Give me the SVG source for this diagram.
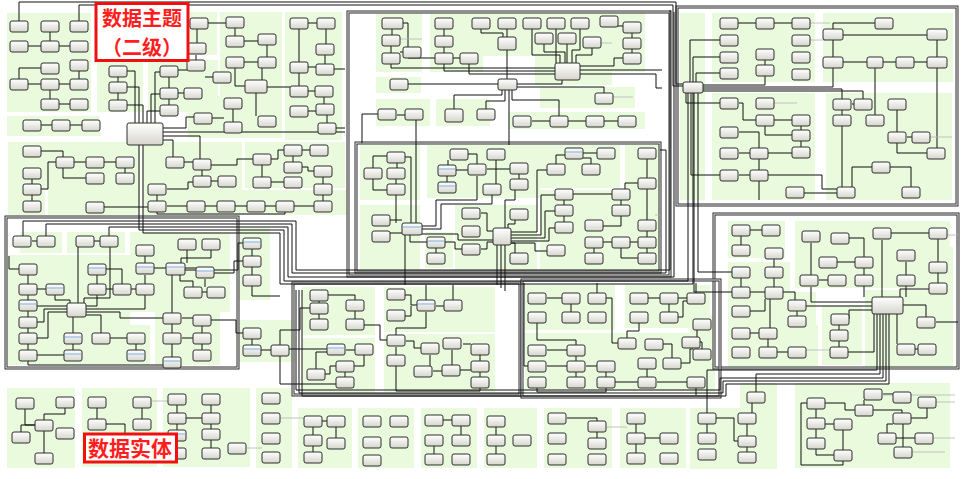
<svg xmlns="http://www.w3.org/2000/svg" width="969" height="479" viewBox="0 0 969 479">
<defs>
<linearGradient id="g" x1="0" y1="0" x2="0" y2="1"><stop offset="0" stop-color="#ffffff"/><stop offset="1" stop-color="#d6d6cd"/></linearGradient>
<rect id="N" width="18" height="11" rx="2" fill="url(#g)" stroke="#2e2e2e" stroke-width="1"/>
</defs>
<style>
.p{fill:#eafadc}
.e{fill:none;stroke:#111;stroke-width:1}
.gl{fill:none;stroke:#b5b5b5;stroke-width:0.8}
.f{fill:none;stroke:#2a2a2a;stroke-width:3}
.fi{fill:none;stroke:#f2f2f2;stroke-width:1}
.n{fill:url(#g);stroke:#2e2e2e;stroke-width:1}
.b{stroke:#7fb0ec;stroke-width:1}
.lb{fill:#fff;stroke:#f01010;stroke-width:3}
.lt{font-family:"Noto Sans CJK SC","Noto Sans",sans-serif;font-weight:bold;font-size:21px;fill:#ff1e1e;text-anchor:middle}
.lt2{font-family:"Noto Sans CJK SC","Noto Sans",sans-serif;font-weight:bold;font-size:20px;fill:#ff1e1e;text-anchor:middle}
</style>
<rect width="969" height="479" fill="#fff"/>
<g id="panels">
<rect class="p" x="7" y="13" width="84" height="99"/><rect class="p" x="7" y="116" width="93" height="20"/><rect class="p" x="97" y="60" width="46" height="52"/><rect class="p" x="148" y="60" width="70" height="52"/><rect class="p" x="190" y="12" width="27" height="43"/><rect class="p" x="220" y="12" width="62" height="92"/><rect class="p" x="285" y="12" width="57" height="128"/><rect class="p" x="188" y="96" width="94" height="42"/>
<rect class="p" x="8" y="142" width="132" height="48"/><rect class="p" x="8" y="190" width="37" height="25"/><rect class="p" x="48" y="190" width="92" height="25"/><rect class="p" x="142" y="142" width="100" height="48"/><rect class="p" x="245" y="142" width="100" height="46"/><rect class="p" x="142" y="190" width="205" height="25"/>
<rect class="p" x="20" y="232" width="42" height="21"/><rect class="p" x="67" y="232" width="58" height="21"/><rect class="p" x="7" y="255" width="123" height="110"/><rect class="p" x="130" y="232" width="100" height="80"/><rect class="p" x="155" y="312" width="65" height="53"/><rect class="p" x="120" y="325" width="30" height="40"/><rect class="p" x="238" y="228" width="32" height="72"/><rect class="p" x="238" y="320" width="57" height="42"/>
<rect class="p" x="302" y="287" width="73" height="48"/><rect class="p" x="302" y="338" width="73" height="55"/><rect class="p" x="384" y="287" width="111" height="45"/><rect class="p" x="384" y="334" width="111" height="58"/><rect class="p" x="525" y="285" width="90" height="45"/><rect class="p" x="625" y="285" width="85" height="43"/><rect class="p" x="525" y="333" width="90" height="58"/><rect class="p" x="615" y="333" width="77" height="58"/><rect class="p" x="690" y="315" width="25" height="77"/>
<rect class="p" x="376" y="13" width="46" height="59"/><rect class="p" x="430" y="13" width="53" height="59"/><rect class="p" x="465" y="13" width="147" height="43"/><rect class="p" x="535" y="56" width="77" height="29"/><rect class="p" x="598" y="13" width="47" height="59"/><rect class="p" x="376" y="77" width="45" height="16"/><rect class="p" x="376" y="99" width="54" height="27"/><rect class="p" x="436" y="99" width="54" height="27"/><rect class="p" x="508" y="112" width="137" height="17"/><rect class="p" x="540" y="87" width="95" height="21"/>
<rect class="p" x="360" y="145" width="60" height="55"/><rect class="p" x="427" y="145" width="113" height="53"/><rect class="p" x="540" y="145" width="80" height="43"/><rect class="p" x="625" y="145" width="35" height="125"/><rect class="p" x="540" y="190" width="85" height="80"/><rect class="p" x="360" y="205" width="60" height="65"/><rect class="p" x="425" y="232" width="28" height="36"/><rect class="p" x="455" y="205" width="82" height="65"/>
<rect class="p" x="680" y="13" width="25" height="187"/><rect class="p" x="712" y="13" width="103" height="69"/><rect class="p" x="823" y="13" width="130" height="69"/><rect class="p" x="712" y="93" width="103" height="107"/><rect class="p" x="826" y="93" width="126" height="107"/>
<rect class="p" x="728" y="221" width="57" height="37"/><rect class="p" x="728" y="262" width="62" height="63"/><rect class="p" x="728" y="325" width="90" height="42"/><rect class="p" x="786" y="292" width="30" height="38"/><rect class="p" x="795" y="221" width="155" height="67"/><rect class="p" x="865" y="290" width="88" height="77"/><rect class="p" x="927" y="247" width="26" height="45"/><rect class="p" x="822" y="305" width="40" height="60"/>
<rect class="p" x="7" y="388" width="68" height="80"/><rect class="p" x="82" y="388" width="75" height="79"/><rect class="p" x="163" y="388" width="87" height="79"/><rect class="p" x="256" y="388" width="36" height="80"/><rect class="p" x="298" y="408" width="54" height="60"/><rect class="p" x="358" y="408" width="56" height="60"/><rect class="p" x="421" y="408" width="56" height="60"/><rect class="p" x="484" y="408" width="53" height="60"/><rect class="p" x="544" y="408" width="68" height="60"/><rect class="p" x="620" y="408" width="66" height="60"/><rect class="p" x="690" y="408" width="87" height="61"/><rect class="p" x="740" y="383" width="37" height="26"/><rect class="p" x="795" y="383" width="155" height="85"/>
</g>
<g id="frames">
<rect class="f" x="6" y="217" width="232" height="151"/><rect class="fi" x="6" y="217" width="232" height="151"/>
<rect class="f" x="348" y="12" width="322" height="264"/><rect class="fi" x="348" y="12" width="322" height="264"/>
<rect class="f" x="356" y="143" width="304" height="129"/><rect class="fi" x="356" y="143" width="304" height="129"/>
<rect class="f" x="677" y="7" width="280" height="198"/><rect class="fi" x="677" y="7" width="280" height="198"/>
<rect class="f" x="714" y="214" width="244" height="154"/><rect class="fi" x="714" y="214" width="244" height="154"/>
<rect class="f" x="293" y="283" width="227" height="112"/><rect class="fi" x="293" y="283" width="227" height="112"/>
<rect class="f" x="522" y="280" width="198" height="117"/><rect class="fi" x="522" y="280" width="198" height="117"/>
</g>
<g id="connectors">
<path class="e" d="M28,46H41"/><path class="e" d="M59,46H70"/><path class="e" d="M50,32V41"/><path class="e" d="M41,68H19V79"/><path class="e" d="M79,71V79"/><path class="e" d="M28,84H41"/><path class="e" d="M59,84H70"/><path class="e" d="M50,90V99"/><path class="e" d="M59,104H70"/>
<path class="e" d="M19,21V2H676V84H683"/><path class="e" d="M79,21V5H673V86H683"/>
<path class="e" d="M41,125H52"/><path class="e" d="M70,125H82"/>
<path class="e" d="M118,77V82"/><path class="e" d="M118,93V100"/><path class="e" d="M169,77V88"/><path class="e" d="M178,93H184"/><path class="e" d="M169,99V105"/><path class="e" d="M178,70H187"/><path class="e" d="M196,55V60"/><path class="e" d="M205,77H213"/><path class="e" d="M197,29V43"/><path class="e" d="M208,23H226"/>
<path class="e" d="M135,123V71H127"/><path class="e" d="M139,123V87H127"/><path class="e" d="M143,123V105H127"/><path class="e" d="M147,123V111H160"/><path class="e" d="M151,123V94H160"/><path class="e" d="M155,123V72H160"/><path class="e" d="M163,128H186V117H194"/><path class="e" d="M163,132H345"/><path class="e" d="M163,136H200V159"/><path class="e" d="M163,140H173V157"/>
<path class="e" d="M235,28V36"/><path class="e" d="M244,41H258"/><path class="e" d="M267,45V57"/><path class="e" d="M244,62H258"/><path class="e" d="M235,68V86H245"/><path class="e" d="M262,80V68"/><path class="e" d="M308,23H317"/><path class="e" d="M326,29V44"/><path class="e" d="M325,55V64"/><path class="e" d="M308,67H316"/><path class="e" d="M308,91H315"/><path class="e" d="M324,97V104"/><path class="e" d="M327,115V123"/><path class="e" d="M308,111H316"/><path class="e" d="M267,87H290"/><path class="e" d="M256,93V116"/><path class="e" d="M233,109V122"/><path class="e" d="M212,118H224"/><path class="e" d="M299,29V62"/><path class="e" d="M299,73V86"/><path class="e" d="M334,69H345"/><path class="e" d="M336,128H345"/>
<path class="e" d="M40,151H63V157"/><path class="e" d="M74,162H86"/><path class="e" d="M104,162H116"/><path class="e" d="M63,168V178H86"/><path class="e" d="M125,168V173"/><path class="e" d="M32,179V184"/><path class="e" d="M32,195V201"/><path class="e" d="M41,189H48V162H56"/><path class="e" d="M104,207H148"/><path class="e" d="M184,162H193"/><path class="e" d="M202,170V176"/><path class="e" d="M211,181H218"/><path class="e" d="M211,165H237V159H253"/><path class="e" d="M262,165V177"/><path class="e" d="M271,182H284"/><path class="e" d="M271,159H278V150H284"/><path class="e" d="M302,150H310"/><path class="e" d="M293,156V162"/><path class="e" d="M302,167H308V171H314"/><path class="e" d="M323,177V184"/><path class="e" d="M323,195V201"/><path class="e" d="M157,195V201"/><path class="e" d="M167,189H188V182H193"/><path class="e" d="M167,206H187"/><path class="e" d="M205,206H217"/><path class="e" d="M235,206H247"/><path class="e" d="M265,206H276"/><path class="e" d="M294,206H314"/><path class="e" d="M157,212V214H285V212"/>
<path class="e" d="M23,236V221H296V270H670V10"/><path class="e" d="M46,236V224H292V273H666V150H660"/><path class="e" d="M109,236V227H288V277H674V12"/><path class="e" d="M139,145V230H284V281H688V93"/><path class="e" d="M143,145V233H280V284H693V93"/>
<path class="e" d="M32,241H37"/><path class="e" d="M94,241H100"/><path class="e" d="M9,256V269H19"/><path class="e" d="M28,275V284"/><path class="e" d="M28,295V300"/><path class="e" d="M28,311V317"/><path class="e" d="M28,328V333"/><path class="e" d="M28,344V350"/><path class="e" d="M67,306H37"/><path class="e" d="M67,309H44V322H37"/><path class="e" d="M67,312H48V338H37"/><path class="e" d="M64,355H37"/><path class="e" d="M37,289H46"/><path class="e" d="M55,295V300H70V303"/><path class="e" d="M97,275V284"/><path class="e" d="M106,269H122V284"/><path class="e" d="M106,289H113"/><path class="e" d="M131,289H136"/><path class="e" d="M97,295V306H86"/><path class="e" d="M78,303V247"/><path class="e" d="M84,303V298H110V247"/><path class="e" d="M86,309H145V295"/><path class="e" d="M86,312H120V318H163"/><path class="e" d="M86,315H101V333"/><path class="e" d="M73,317V333"/><path class="e" d="M73,344V350"/><path class="e" d="M110,338H127"/><path class="e" d="M136,344V350"/><path class="e" d="M145,256V263"/><path class="e" d="M145,275V284"/><path class="e" d="M154,268H166"/><path class="e" d="M185,268H196"/><path class="e" d="M187,250V263"/><path class="e" d="M211,250V258H181V263"/><path class="e" d="M205,279V287"/><path class="e" d="M180,275V281H193V287"/><path class="e" d="M202,292H207"/><path class="e" d="M172,275V313"/><path class="e" d="M182,318H193"/><path class="e" d="M172,324V333"/><path class="e" d="M182,338H193"/><path class="e" d="M202,326V333"/><path class="e" d="M202,344V350"/><path class="e" d="M172,344V357"/><path class="e" d="M185,270H238V243H243"/><path class="e" d="M214,273H234V261H243"/><path class="e" d="M28,361V365H172V368"/><path class="e" d="M211,320H236V333H243"/>
<path class="e" d="M252,249V256"/><path class="e" d="M252,267V275"/><path class="e" d="M252,286V296H280"/><path class="e" d="M252,339V345"/><path class="e" d="M261,350H271"/><path class="e" d="M280,345V330H300V308H310"/><path class="e" d="M289,349H327"/><path class="e" d="M280,356V384H336"/>
<path class="e" d="M319,301V303"/><path class="e" d="M319,314V319"/><path class="e" d="M328,295H355V300"/><path class="e" d="M355,311V319"/><path class="e" d="M364,325H380V340H387"/><path class="e" d="M405,295H411V305H417"/><path class="e" d="M405,316H411V306"/><path class="e" d="M436,306H444"/><path class="e" d="M426,300V285"/><path class="e" d="M426,312V328H396V335"/><path class="e" d="M396,347V355"/><path class="e" d="M406,341H414V348H421"/><path class="e" d="M346,350H355"/><path class="e" d="M364,355V366H354"/><path class="e" d="M345,372V377"/><path class="e" d="M325,374H330V366H336"/><path class="e" d="M316,369V352H327"/><path class="e" d="M463,344H471"/><path class="e" d="M480,355V361"/><path class="e" d="M480,372V377"/><path class="e" d="M460,370H471"/><path class="e" d="M433,371H442"/><path class="e" d="M396,366V391H480V388"/><path class="e" d="M453,300V285"/><path class="e" d="M430,355V366"/><path class="e" d="M452,350V365"/>
<path class="e" d="M547,298H562"/><path class="e" d="M571,304V312"/><path class="e" d="M606,298H612V343H618"/><path class="e" d="M597,293V283"/><path class="e" d="M537,323V340H576V345"/><path class="e" d="M547,350H567"/><path class="e" d="M576,356V361"/><path class="e" d="M547,366H567"/><path class="e" d="M586,366H597"/><path class="e" d="M576,372V377"/><path class="e" d="M606,372V377"/><path class="e" d="M528,366H524V283"/><path class="e" d="M648,298H660"/><path class="e" d="M669,304V312"/><path class="e" d="M678,298H687"/><path class="e" d="M696,293V283"/><path class="e" d="M678,317H683V301H687"/><path class="e" d="M639,323V331H627V338"/><path class="e" d="M663,344H672V358"/><path class="e" d="M647,369V377"/><path class="e" d="M681,363H690V349H693"/><path class="e" d="M657,382H687"/><path class="e" d="M615,382H638"/><path class="e" d="M697,330V337"/><path class="e" d="M700,342H702V349"/><path class="e" d="M696,388V395"/><path class="e" d="M537,388V392H606V388"/>
<path class="e" d="M392,29V35"/><path class="e" d="M391,46V53"/><path class="e" d="M400,52H403"/><path class="e" d="M403,23H408V58H435"/><path class="e" d="M444,29V36"/><path class="e" d="M444,47V53"/><path class="e" d="M453,58H460"/><path class="e" d="M481,29V33H503V37"/><path class="e" d="M507,29V37"/><path class="e" d="M507,50V79"/><path class="e" d="M532,29V55H560V63"/><path class="e" d="M556,29V63"/><path class="e" d="M580,29V50H572V63"/><path class="e" d="M544,44V52H565V63"/><path class="e" d="M567,44V63"/><path class="e" d="M592,48V55H576V63"/><path class="e" d="M617,26H623"/><path class="e" d="M632,33V38"/><path class="e" d="M632,49V53"/><path class="e" d="M580,66H614V58H623"/><path class="e" d="M580,70H662"/><path class="e" d="M580,74H656V88H662"/><path class="e" d="M517,84H562V80"/><path class="e" d="M408,84H498"/><path class="e" d="M391,64V68H555"/><path class="e" d="M444,64V71H555"/><path class="e" d="M469,64V74H555"/><path class="e" d="M397,115H405"/><path class="e" d="M378,114H362V143"/><path class="e" d="M502,90V95H454V109"/><path class="e" d="M505,90V101H486V109"/><path class="e" d="M512,90V100H559V116"/><path class="e" d="M532,121H550"/><path class="e" d="M568,121H586"/><path class="e" d="M604,121H618"/><path class="e" d="M517,87H604V93"/><path class="e" d="M509,90V145"/><path class="e" d="M416,120V223"/>
<path class="e" d="M387,156H373V168"/><path class="e" d="M373,179V190H387"/><path class="e" d="M396,195V223"/><path class="e" d="M405,157H411V223"/><path class="e" d="M390,220H402"/><path class="e" d="M390,233H402"/><path class="e" d="M422,226H436V200H477V176"/><path class="e" d="M422,229H441V204H492V195"/><path class="e" d="M422,234H458V240H493"/><path class="e" d="M410,235V242H427"/><path class="e" d="M405,235V285"/><path class="e" d="M436,248V253"/><path class="e" d="M445,242H455V249H462"/><path class="e" d="M456,170H468"/><path class="e" d="M468,154H477V164"/><path class="e" d="M487,169H510"/><path class="e" d="M519,174V179"/><path class="e" d="M515,190V200H505V228"/><path class="e" d="M481,213H487V231H493"/><path class="e" d="M481,249H487V242H493"/><path class="e" d="M511,232H537V170H547"/><path class="e" d="M511,235H541V195H555"/><path class="e" d="M511,238H545V211H555"/><path class="e" d="M511,241H549V228H555"/><path class="e" d="M515,220V224H508V228"/><path class="e" d="M515,253V243H511"/><path class="e" d="M497,245V285"/><path class="e" d="M501,245V288"/><path class="e" d="M505,245V291"/><path class="e" d="M564,200V205"/><path class="e" d="M564,216V222"/><path class="e" d="M573,194H612"/><path class="e" d="M621,200V205"/><path class="e" d="M621,216V226H603"/><path class="e" d="M603,242H612"/><path class="e" d="M594,248V253"/><path class="e" d="M630,242H638"/><path class="e" d="M647,231V237"/><path class="e" d="M647,248V253"/><path class="e" d="M621,248V258H638"/><path class="e" d="M647,220V189"/><path class="e" d="M647,159V178"/><path class="e" d="M638,183H625V189"/><path class="e" d="M583,153H597"/><path class="e" d="M565,155H556V164"/><path class="e" d="M583,158H591V164"/><path class="e" d="M511,243H535V251H547"/><path class="e" d="M397,163V168"/><path class="e" d="M396,179V184"/><path class="e" d="M447,176V182"/><path class="e" d="M448,160V165"/><path class="e" d="M496,159V184"/>
<path class="e" d="M738,23H756"/><path class="e" d="M774,23H792"/><path class="e" d="M765,60V65"/><path class="e" d="M690,82V40H720"/><path class="e" d="M693,82V57H720"/><path class="e" d="M696,82V73H720"/><path class="e" d="M703,85H765V76"/><path class="e" d="M703,87H833V68"/><path class="e" d="M703,89H842V99"/><path class="e" d="M703,91H863V99"/><path class="e" d="M686,93V103H720"/><path class="e" d="M691,93V175H720"/><path class="e" d="M694,93V292H732"/><path class="e" d="M698,93V272H732"/><path class="e" d="M739,103H743V120H756"/><path class="e" d="M765,126V135H792"/><path class="e" d="M774,120H792"/><path class="e" d="M739,132H759V148"/><path class="e" d="M739,153H750"/><path class="e" d="M768,153H792"/><path class="e" d="M759,159V170"/><path class="e" d="M739,175H750"/><path class="e" d="M768,175H822V189H837"/><path class="e" d="M804,193H837"/><path class="e" d="M759,181V200"/><path class="e" d="M801,126V130"/><path class="e" d="M801,141V147"/><path class="e" d="M833,29V23H875"/><path class="e" d="M843,35H927"/><path class="e" d="M833,40V57"/><path class="e" d="M843,62H867"/><path class="e" d="M883,62H896"/><path class="e" d="M914,62H927"/><path class="e" d="M937,40V57"/><path class="e" d="M937,68V148"/><path class="e" d="M852,104H854"/><path class="e" d="M842,110V115"/><path class="e" d="M842,126V187"/><path class="e" d="M875,68V115"/><path class="e" d="M897,110V132"/><path class="e" d="M907,137H912"/><path class="e" d="M897,143V153H927"/><path class="e" d="M872,167H852V187"/><path class="e" d="M890,167H911V187"/>
<path class="e" d="M750,230H762"/><path class="e" d="M741,236V245"/><path class="e" d="M774,259V267"/><path class="e" d="M774,278V287"/><path class="e" d="M750,292H765"/><path class="e" d="M741,278V287"/><path class="e" d="M750,311H765V299"/><path class="e" d="M783,292H795V300"/><path class="e" d="M797,311V316"/><path class="e" d="M770,299V328"/><path class="e" d="M750,333H759"/><path class="e" d="M768,339V347"/><path class="e" d="M777,352H788"/><path class="e" d="M811,243V275"/><path class="e" d="M819,280H828"/><path class="e" d="M837,262H855"/><path class="e" d="M864,268V275"/><path class="e" d="M848,238H864V257"/><path class="e" d="M882,240V297"/><path class="e" d="M891,233H929"/><path class="e" d="M938,239V262"/><path class="e" d="M938,273V283"/><path class="e" d="M929,289H900V297"/><path class="e" d="M906,262V275"/><path class="e" d="M906,286V297"/><path class="e" d="M864,286V297"/><path class="e" d="M872,302H811V287"/><path class="e" d="M806,306H872"/><path class="e" d="M873,310H849V319"/><path class="e" d="M903,305H926V317"/><path class="e" d="M897,314V344"/><path class="e" d="M915,349H918"/><path class="e" d="M936,322H958"/><path class="e" d="M839,325V330"/><path class="e" d="M839,341V347"/><path class="e" d="M848,352H874V314"/>
<path class="e" d="M877,314V370H707V413"/><path class="e" d="M880,314V374H756V392"/><path class="e" d="M883,314V378H720V390H296V290"/><path class="e" d="M886,314V381H723V393H299V290"/><path class="e" d="M889,314V384H726V396H302V290"/>
<path class="e" d="M25,409V425H35"/><path class="e" d="M65,408V414H44V420"/><path class="e" d="M35,425H21V432"/><path class="e" d="M44,431V453"/><path class="e" d="M97,408V419"/><path class="e" d="M142,408V419"/><path class="e" d="M106,424H125V440"/><path class="e" d="M177,405V413"/><path class="e" d="M211,405V413"/><path class="e" d="M186,418H202"/><path class="e" d="M211,424V429"/><path class="e" d="M177,424V430"/><path class="e" d="M211,440V448"/><path class="e" d="M177,441V448"/><path class="e" d="M322,421H327"/><path class="e" d="M313,427V435"/><path class="e" d="M313,446V452"/><path class="e" d="M336,427V438"/><path class="e" d="M443,420H452"/><path class="e" d="M461,426V435"/><path class="e" d="M434,446V454"/><path class="e" d="M496,427V435"/><path class="e" d="M496,446V454"/><path class="e" d="M567,418H597V421"/><path class="e" d="M597,432V438"/><path class="e" d="M636,424V433"/><path class="e" d="M645,438H660"/><path class="e" d="M636,444V453"/><path class="e" d="M716,418H734V441H738"/><path class="e" d="M707,424V433"/><path class="e" d="M747,424V436"/><path class="e" d="M747,447V452"/><path class="e" d="M752,403V413"/><path class="e" d="M816,408V418"/><path class="e" d="M816,429V438"/><path class="e" d="M825,403H845V410H855"/><path class="e" d="M864,400V405"/><path class="e" d="M873,410H902V413"/><path class="e" d="M883,394H893"/><path class="e" d="M927,408V418H911"/><path class="e" d="M825,424H834"/><path class="e" d="M843,430V450"/><path class="e" d="M816,449V455H834"/><path class="e" d="M887,433V424H893"/><path class="e" d="M807,403H801V465H843V461"/><path class="e" d="M896,438H915"/><path class="e" d="M903,424V447"/>
<path class="gl" d="M400,39H422"/><path class="gl" d="M601,43H612"/><path class="gl" d="M613,97H633"/><path class="gl" d="M774,103H797"/><path class="gl" d="M810,40H826"/><path class="gl" d="M810,23H830"/><path class="gl" d="M930,137H952"/><path class="gl" d="M944,235H958"/><path class="gl" d="M806,350H830"/><path class="gl" d="M152,401H168"/><path class="gl" d="M280,418H304"/><path class="gl" d="M247,448H262"/><path class="gl" d="M607,427H627"/><path class="gl" d="M883,395H955"/><path class="gl" d="M936,402H955"/><path class="gl" d="M933,438H955"/><path class="gl" d="M912,452H945"/><path class="gl" d="M655,215H660"/>
</g>
<g id="nodes">
<g id="n1"><use href="#N" x="10" y="21"/></g><g id="n2"><use href="#N" x="41" y="21"/></g><g id="n3"><use href="#N" x="70" y="21"/></g><g id="n4"><use href="#N" x="10" y="41"/></g><g id="n5"><use href="#N" x="41" y="41"/></g><g id="n6"><use href="#N" x="70" y="41"/></g><g id="n7"><use href="#N" x="41" y="63"/></g><g id="n8"><use href="#N" x="70" y="60"/></g><g id="n9"><use href="#N" x="10" y="79"/></g><g id="n10"><use href="#N" x="41" y="79"/></g><g id="n11"><use href="#N" x="70" y="79"/></g><g id="n12"><use href="#N" x="41" y="99"/></g><g id="n13"><use href="#N" x="70" y="99"/></g>
<g id="n14"><use href="#N" x="23" y="120"/></g><g id="n15"><use href="#N" x="52" y="120"/></g><g id="n16"><use href="#N" x="82" y="120"/></g>
<g id="n17"><use href="#N" x="109" y="66"/></g><g id="n18"><use href="#N" x="109" y="82"/></g><g id="n19"><use href="#N" x="109" y="100"/></g><g id="n20"><use href="#N" x="160" y="66"/></g><g id="n21"><use href="#N" x="187" y="60"/></g><g id="n22"><use href="#N" x="160" y="88"/></g><g id="n23"><use href="#N" x="184" y="88"/></g><g id="n24"><use href="#N" x="160" y="105"/></g><g id="n25"><use href="#N" x="213" y="72"/></g><g id="n26"><use href="#N" x="190" y="18"/></g><g id="n27"><use href="#N" x="188" y="43"/></g>
<g id="h1"><rect class="n" x="127" y="123" width="36" height="22" rx="2"/></g>
<g id="n28"><use href="#N" x="226" y="17"/></g><g id="n29"><use href="#N" x="226" y="36"/></g><g id="n30"><use href="#N" x="258" y="34"/></g><g id="n31"><use href="#N" x="258" y="57"/></g><g id="n32"><use href="#N" x="226" y="57"/></g>
<g id="h2"><rect class="n" x="245" y="80" width="22" height="13" rx="2"/></g>
<g id="n33"><use href="#N" x="290" y="18"/></g><g id="n34"><use href="#N" x="317" y="18"/></g><g id="n35"><use href="#N" x="316" y="44"/></g><g id="n36"><use href="#N" x="290" y="62"/></g><g id="n37"><use href="#N" x="316" y="64"/></g><g id="n38"><use href="#N" x="290" y="86"/></g><g id="n39"><use href="#N" x="315" y="86"/></g><g id="n40"><use href="#N" x="316" y="104"/></g><g id="n41"><use href="#N" x="290" y="106"/></g><g id="n42"><use href="#N" x="318" y="123"/></g><g id="n43"><use href="#N" x="258" y="116"/></g><g id="n44"><use href="#N" x="224" y="98"/></g><g id="n45"><use href="#N" x="224" y="122"/></g><g id="n46"><use href="#N" x="194" y="113"/></g>
<g id="n47"><use href="#N" x="23" y="146"/></g><g id="n48"><use href="#N" x="56" y="157"/></g><g id="n49"><use href="#N" x="86" y="157"/></g><g id="n50"><use href="#N" x="116" y="157"/></g><g id="n51"><use href="#N" x="86" y="173"/></g><g id="n52"><use href="#N" x="116" y="173"/></g><g id="n53"><use href="#N" x="23" y="168"/></g><g id="n54"><use href="#N" x="23" y="184"/></g><g id="n55"><use href="#N" x="23" y="201"/></g><g id="n56"><use href="#N" x="86" y="202"/></g><g id="n57"><use href="#N" x="166" y="157"/></g><g id="n58"><use href="#N" x="193" y="159"/></g><g id="n59"><use href="#N" x="193" y="176"/></g><g id="n60"><use href="#N" x="218" y="176"/></g><g id="n61"><use href="#N" x="253" y="154"/></g><g id="n62"><use href="#N" x="284" y="145"/></g><g id="n63"><use href="#N" x="310" y="145"/></g><g id="n64"><use href="#N" x="284" y="162"/></g><g id="n65"><use href="#N" x="253" y="177"/></g><g id="n66"><use href="#N" x="284" y="177"/></g><g id="n67"><use href="#N" x="314" y="166"/></g><g id="n68"><use href="#N" x="314" y="184"/></g><g id="n69"><use href="#N" x="314" y="201"/></g><g id="n70"><use href="#N" x="148" y="184"/></g><g id="n71"><use href="#N" x="148" y="201"/></g><g id="n72"><use href="#N" x="187" y="201"/></g><g id="n73"><use href="#N" x="217" y="201"/></g><g id="n74"><use href="#N" x="247" y="201"/></g><g id="n75"><use href="#N" x="276" y="201"/></g>
<g id="n76"><use href="#N" x="13" y="236"/></g><g id="n77"><use href="#N" x="37" y="236"/></g><g id="n78"><use href="#N" x="76" y="236"/></g><g id="n79"><use href="#N" x="100" y="236"/></g><g id="n80"><use href="#N" x="19" y="264"/></g><g id="n81"><use href="#N" x="19" y="284"/></g><g id="n82"><use href="#N" x="19" y="300"/><path class="b" d="M20,304H36"/></g><g id="n83"><use href="#N" x="19" y="317"/></g><g id="n84"><use href="#N" x="19" y="333"/></g><g id="n85"><use href="#N" x="19" y="350"/></g><g id="n86"><use href="#N" x="46" y="284"/><path class="b" d="M47,288H63"/></g><g id="n87"><use href="#N" x="88" y="264"/><path class="b" d="M89,268H105"/></g><g id="n88"><use href="#N" x="88" y="284"/></g><g id="n89"><use href="#N" x="113" y="284"/></g><g id="n90"><use href="#N" x="136" y="284"/></g><g id="n91"><use href="#N" x="136" y="245"/></g><g id="n92"><use href="#N" x="136" y="263"/><path class="b" d="M137,267H153"/></g>
<g id="h3"><rect class="n" x="67" y="303" width="19" height="14" rx="2"/></g>
<g id="n93"><use href="#N" x="64" y="333"/><path class="b" d="M65,337H81"/></g><g id="n94"><use href="#N" x="64" y="350"/><path class="b" d="M65,354H81"/></g><g id="n95"><use href="#N" x="92" y="333"/></g><g id="n96"><use href="#N" x="127" y="333"/></g><g id="n97"><use href="#N" x="127" y="350"/><path class="b" d="M128,354H144"/></g>
<g id="h4"><rect class="n" x="166" y="263" width="19" height="12" rx="2"/><path class="b" d="M167,267H184"/></g>
<g id="n98"><use href="#N" x="178" y="239"/></g><g id="n99"><use href="#N" x="202" y="239"/></g><g id="n100"><use href="#N" x="196" y="267"/><path class="b" d="M197,271H213"/></g><g id="n101"><use href="#N" x="184" y="287"/></g><g id="n102"><use href="#N" x="207" y="287"/></g><g id="n103"><use href="#N" x="163" y="313"/></g><g id="n104"><use href="#N" x="193" y="315"/></g><g id="n105"><use href="#N" x="163" y="333"/></g><g id="n106"><use href="#N" x="193" y="333"/></g><g id="n107"><use href="#N" x="193" y="350"/></g><g id="n108"><use href="#N" x="163" y="357"/><path class="b" d="M164,361H180"/></g>
<g id="n109"><use href="#N" x="243" y="238"/><path class="b" d="M244,242H260"/></g><g id="n110"><use href="#N" x="243" y="256"/></g><g id="n111"><use href="#N" x="243" y="275"/></g><g id="n112"><use href="#N" x="243" y="328"/></g><g id="n113"><use href="#N" x="243" y="345"/><path class="b" d="M244,349H260"/></g><g id="n114"><use href="#N" x="271" y="345"/></g>
<g id="n115"><use href="#N" x="310" y="290"/></g><g id="n116"><use href="#N" x="310" y="303"/></g><g id="n117"><use href="#N" x="310" y="319"/></g><g id="n118"><use href="#N" x="346" y="300"/></g><g id="n119"><use href="#N" x="346" y="319"/></g><g id="n120"><use href="#N" x="327" y="344"/><path class="b" d="M328,348H344"/></g><g id="n121"><use href="#N" x="355" y="344"/></g><g id="n122"><use href="#N" x="336" y="361"/></g><g id="n123"><use href="#N" x="307" y="369"/></g><g id="n124"><use href="#N" x="336" y="377"/></g><g id="n125"><use href="#N" x="387" y="289"/></g><g id="n126"><use href="#N" x="387" y="310"/></g><g id="n127"><use href="#N" x="417" y="300"/><path class="b" d="M418,304H434"/></g><g id="n128"><use href="#N" x="444" y="300"/></g><g id="n129"><use href="#N" x="387" y="335"/></g><g id="n130"><use href="#N" x="387" y="355"/></g><g id="n131"><use href="#N" x="421" y="343"/></g><g id="n132"><use href="#N" x="443" y="338"/></g><g id="n133"><use href="#N" x="471" y="344"/></g><g id="n134"><use href="#N" x="471" y="361"/></g><g id="n135"><use href="#N" x="471" y="377"/></g><g id="n136"><use href="#N" x="442" y="365"/></g><g id="n137"><use href="#N" x="414" y="366"/></g>
<g id="n138"><use href="#N" x="528" y="293"/></g><g id="n139"><use href="#N" x="562" y="293"/></g><g id="n140"><use href="#N" x="588" y="293"/></g><g id="n141"><use href="#N" x="528" y="312"/></g><g id="n142"><use href="#N" x="562" y="312"/></g><g id="n143"><use href="#N" x="588" y="312"/></g><g id="n144"><use href="#N" x="630" y="293"/></g><g id="n145"><use href="#N" x="660" y="293"/></g><g id="n146"><use href="#N" x="687" y="293"/></g><g id="n147"><use href="#N" x="630" y="312"/></g><g id="n148"><use href="#N" x="660" y="312"/></g><g id="n149"><use href="#N" x="528" y="345"/></g><g id="n150"><use href="#N" x="567" y="345"/></g><g id="n151"><use href="#N" x="528" y="361"/></g><g id="n152"><use href="#N" x="567" y="361"/></g><g id="n153"><use href="#N" x="597" y="361"/></g><g id="n154"><use href="#N" x="528" y="377"/></g><g id="n155"><use href="#N" x="567" y="377"/></g><g id="n156"><use href="#N" x="597" y="377"/></g><g id="n157"><use href="#N" x="618" y="338"/></g><g id="n158"><use href="#N" x="645" y="339"/></g><g id="n159"><use href="#N" x="638" y="358"/></g><g id="n160"><use href="#N" x="663" y="358"/></g><g id="n161"><use href="#N" x="638" y="377"/></g><g id="n162"><use href="#N" x="693" y="319"/></g><g id="n163"><use href="#N" x="682" y="337"/></g><g id="n164"><use href="#N" x="693" y="349"/></g><g id="n165"><use href="#N" x="687" y="377"/></g>
<g id="n166"><rect class="n" x="382" y="18" width="21" height="11" rx="2"/></g><g id="n167"><use href="#N" x="382" y="35"/></g><g id="n168"><use href="#N" x="382" y="53"/></g><g id="n169"><use href="#N" x="403" y="47"/></g><g id="n170"><use href="#N" x="435" y="18"/></g><g id="n171"><use href="#N" x="435" y="36"/></g><g id="n172"><use href="#N" x="435" y="53"/></g><g id="n173"><use href="#N" x="460" y="53"/></g><g id="n174"><use href="#N" x="472" y="18"/></g><g id="n175"><use href="#N" x="498" y="18"/></g><g id="n176"><use href="#N" x="523" y="18"/></g><g id="n177"><use href="#N" x="547" y="18"/></g><g id="n178"><use href="#N" x="571" y="18"/></g><g id="n179"><rect class="n" x="498" y="37" width="18" height="13" rx="2"/></g><g id="n180"><use href="#N" x="535" y="33"/></g><g id="n181"><use href="#N" x="558" y="33"/></g><g id="n182"><use href="#N" x="583" y="37"/></g>
<g id="h5"><rect class="n" x="555" y="63" width="25" height="17" rx="2"/></g>
<g id="n183"><use href="#N" x="600" y="16"/></g><g id="n184"><use href="#N" x="623" y="22"/></g><g id="n185"><use href="#N" x="623" y="38"/></g><g id="n186"><use href="#N" x="623" y="53"/></g>
<g id="h6"><rect class="n" x="498" y="79" width="19" height="11" rx="2"/></g>
<g id="n187"><use href="#N" x="390" y="79"/></g><g id="n188"><use href="#N" x="378" y="109"/></g><g id="n189"><use href="#N" x="405" y="109"/></g><g id="n190"><rect class="n" x="445" y="109" width="18" height="13" rx="2"/></g><g id="n191"><use href="#N" x="477" y="109"/></g><g id="n192"><use href="#N" x="513" y="116"/></g><g id="n193"><use href="#N" x="550" y="116"/></g><g id="n194"><use href="#N" x="586" y="116"/></g><g id="n195"><use href="#N" x="618" y="116"/></g><g id="n196"><use href="#N" x="595" y="93"/></g>
<g id="n197"><use href="#N" x="387" y="152"/></g><g id="n198"><use href="#N" x="364" y="168"/></g><g id="n199"><use href="#N" x="387" y="168"/></g><g id="n200"><use href="#N" x="387" y="184"/></g><g id="n201"><use href="#N" x="450" y="149"/></g><g id="n202"><use href="#N" x="487" y="149"/></g><g id="n203"><use href="#N" x="438" y="165"/><path class="b" d="M439,169H455"/></g><g id="n204"><use href="#N" x="438" y="182"/><path class="b" d="M439,186H455"/></g><g id="n205"><use href="#N" x="468" y="164"/></g><g id="n206"><use href="#N" x="483" y="184"/></g><g id="n207"><use href="#N" x="510" y="163"/></g><g id="n208"><use href="#N" x="510" y="179"/></g><g id="n209"><use href="#N" x="547" y="164"/></g><g id="n210"><use href="#N" x="565" y="148"/><path class="b" d="M566,152H582"/></g><g id="n211"><use href="#N" x="597" y="148"/></g><g id="n212"><use href="#N" x="582" y="164"/></g><g id="n213"><use href="#N" x="555" y="189"/></g><g id="n214"><use href="#N" x="555" y="205"/></g><g id="n215"><use href="#N" x="555" y="222"/></g><g id="n216"><use href="#N" x="547" y="245"/></g><g id="n217"><use href="#N" x="612" y="189"/></g><g id="n218"><use href="#N" x="612" y="205"/></g><g id="n219"><use href="#N" x="585" y="220"/></g><g id="n220"><use href="#N" x="585" y="237"/></g><g id="n221"><use href="#N" x="585" y="253"/></g><g id="n222"><use href="#N" x="612" y="237"/></g><g id="n223"><use href="#N" x="638" y="220"/></g><g id="n224"><use href="#N" x="638" y="237"/></g><g id="n225"><use href="#N" x="638" y="253"/></g><g id="n226"><use href="#N" x="638" y="148"/></g><g id="n227"><use href="#N" x="638" y="178"/></g>
<g id="h7"><rect class="n" x="402" y="223" width="20" height="12" rx="2"/><path class="b" d="M403,227H421"/></g>
<g id="n228"><use href="#N" x="372" y="215"/></g><g id="n229"><use href="#N" x="372" y="231"/></g><g id="n230"><use href="#N" x="427" y="237"/><path class="b" d="M428,241H444"/></g><g id="n231"><use href="#N" x="427" y="253"/></g><g id="n232"><use href="#N" x="462" y="208"/></g><g id="n233"><use href="#N" x="462" y="226"/></g><g id="n234"><use href="#N" x="462" y="244"/></g><g id="n235"><use href="#N" x="510" y="209"/></g><g id="n236"><use href="#N" x="510" y="253"/></g>
<g id="h8"><rect class="n" x="493" y="228" width="18" height="17" rx="2"/></g>
<g id="n237"><use href="#N" x="720" y="18"/></g><g id="n238"><use href="#N" x="756" y="18"/></g><g id="n239"><use href="#N" x="792" y="18"/></g><g id="n240"><use href="#N" x="720" y="35"/></g><g id="n241"><use href="#N" x="720" y="52"/></g><g id="n242"><use href="#N" x="720" y="68"/></g><g id="n243"><use href="#N" x="756" y="49"/></g><g id="n244"><use href="#N" x="756" y="65"/></g><g id="n245"><use href="#N" x="792" y="35"/></g><g id="n246"><use href="#N" x="792" y="52"/></g><g id="n247"><use href="#N" x="792" y="69"/></g>
<g id="h9"><rect class="n" x="683" y="82" width="20" height="11" rx="2"/></g>
<g id="n248"><rect class="n" x="823" y="29" width="20" height="11" rx="2"/></g><g id="n249"><use href="#N" x="875" y="18"/></g><g id="n250"><rect class="n" x="927" y="29" width="20" height="11" rx="2"/></g><g id="n251"><rect class="n" x="823" y="57" width="20" height="11" rx="2"/></g><g id="n252"><rect class="n" x="867" y="57" width="16" height="11" rx="2"/></g><g id="n253"><use href="#N" x="896" y="57"/></g><g id="n254"><rect class="n" x="927" y="57" width="20" height="11" rx="2"/></g>
<g id="n255"><use href="#N" x="720" y="98"/></g><g id="n256"><use href="#N" x="756" y="98"/></g><g id="n257"><use href="#N" x="756" y="115"/></g><g id="n258"><use href="#N" x="792" y="115"/></g><g id="n259"><use href="#N" x="720" y="127"/></g><g id="n260"><use href="#N" x="720" y="148"/></g><g id="n261"><use href="#N" x="750" y="148"/></g><g id="n262"><use href="#N" x="792" y="147"/></g><g id="n263"><use href="#N" x="792" y="130"/></g><g id="n264"><use href="#N" x="720" y="170"/></g><g id="n265"><use href="#N" x="750" y="170"/></g><g id="n266"><use href="#N" x="786" y="187"/></g><g id="n267"><use href="#N" x="833" y="99"/></g><g id="n268"><use href="#N" x="854" y="99"/></g><g id="n269"><use href="#N" x="888" y="99"/></g><g id="n270"><use href="#N" x="833" y="115"/></g><g id="n271"><use href="#N" x="866" y="115"/></g><g id="n272"><use href="#N" x="888" y="132"/></g><g id="n273"><use href="#N" x="912" y="132"/></g><g id="n274"><use href="#N" x="927" y="148"/></g><g id="n275"><use href="#N" x="872" y="162"/></g><g id="n276"><use href="#N" x="837" y="187"/></g><g id="n277"><use href="#N" x="902" y="187"/></g>
<g id="n278"><use href="#N" x="732" y="225"/></g><g id="n279"><use href="#N" x="762" y="225"/></g><g id="n280"><use href="#N" x="732" y="245"/></g><g id="n281"><use href="#N" x="765" y="248"/></g><g id="n282"><use href="#N" x="765" y="267"/></g><g id="n283"><rect class="n" x="765" y="287" width="18" height="12" rx="2"/></g><g id="n284"><use href="#N" x="732" y="267"/></g><g id="n285"><use href="#N" x="732" y="287"/></g><g id="n286"><use href="#N" x="732" y="306"/></g><g id="n287"><use href="#N" x="732" y="328"/></g><g id="n288"><use href="#N" x="759" y="328"/></g><g id="n289"><use href="#N" x="732" y="347"/></g><g id="n290"><use href="#N" x="759" y="347"/></g><g id="n291"><use href="#N" x="788" y="347"/></g><g id="n292"><use href="#N" x="788" y="300"/></g><g id="n293"><use href="#N" x="788" y="316"/></g><g id="n294"><use href="#N" x="802" y="231"/></g><g id="n295"><use href="#N" x="831" y="233"/></g><g id="n296"><use href="#N" x="819" y="257"/></g><g id="n297"><use href="#N" x="855" y="257"/></g><g id="n298"><use href="#N" x="800" y="275"/></g><g id="n299"><use href="#N" x="828" y="275"/></g><g id="n300"><use href="#N" x="855" y="275"/></g><g id="n301"><use href="#N" x="897" y="250"/></g><g id="n302"><use href="#N" x="897" y="275"/></g><g id="n303"><use href="#N" x="873" y="228"/></g><g id="n304"><use href="#N" x="929" y="228"/></g><g id="n305"><use href="#N" x="929" y="262"/></g><g id="n306"><use href="#N" x="929" y="283"/></g>
<g id="h10"><rect class="n" x="872" y="297" width="31" height="17" rx="2"/></g>
<g id="n307"><use href="#N" x="917" y="317"/></g><g id="n308"><use href="#N" x="897" y="344"/></g><g id="n309"><use href="#N" x="918" y="344"/></g><g id="n310"><use href="#N" x="831" y="314"/></g><g id="n311"><use href="#N" x="830" y="330"/></g><g id="n312"><use href="#N" x="830" y="347"/></g>
<g id="n313"><use href="#N" x="16" y="398"/></g><g id="n314"><use href="#N" x="56" y="397"/></g><g id="n315"><use href="#N" x="35" y="420"/></g><g id="n316"><use href="#N" x="12" y="432"/></g><g id="n317"><use href="#N" x="56" y="428"/></g><g id="n318"><use href="#N" x="35" y="453"/></g><g id="n319"><use href="#N" x="88" y="397"/></g><g id="n320"><use href="#N" x="133" y="397"/></g><g id="n321"><use href="#N" x="88" y="419"/></g><g id="n322"><use href="#N" x="133" y="419"/></g><g id="n323"><use href="#N" x="168" y="394"/></g><g id="n324"><use href="#N" x="202" y="394"/></g><g id="n325"><use href="#N" x="168" y="413"/></g><g id="n326"><use href="#N" x="202" y="413"/></g><g id="n327"><use href="#N" x="168" y="430"/><path class="b" d="M169,434H185"/></g><g id="n328"><use href="#N" x="202" y="429"/></g><g id="n329"><use href="#N" x="168" y="448"/></g><g id="n330"><use href="#N" x="202" y="448"/></g><g id="n331"><use href="#N" x="228" y="443"/></g>
<g id="n332"><use href="#N" x="262" y="393"/></g><g id="n333"><use href="#N" x="262" y="413"/></g><g id="n334"><use href="#N" x="262" y="433"/></g><g id="n335"><use href="#N" x="262" y="452"/></g><g id="n336"><use href="#N" x="304" y="416"/></g><g id="n337"><use href="#N" x="327" y="416"/></g><g id="n338"><use href="#N" x="304" y="435"/></g><g id="n339"><use href="#N" x="327" y="438"/></g><g id="n340"><use href="#N" x="304" y="452"/></g><g id="n341"><use href="#N" x="363" y="416"/></g><g id="n342"><use href="#N" x="390" y="416"/></g><g id="n343"><use href="#N" x="363" y="437"/></g><g id="n344"><use href="#N" x="390" y="437"/></g><g id="n345"><use href="#N" x="363" y="455"/></g><g id="n346"><use href="#N" x="425" y="415"/></g><g id="n347"><use href="#N" x="452" y="415"/></g><g id="n348"><use href="#N" x="425" y="435"/></g><g id="n349"><use href="#N" x="452" y="435"/></g><g id="n350"><use href="#N" x="425" y="454"/></g><g id="n351"><use href="#N" x="452" y="454"/></g><g id="n352"><use href="#N" x="487" y="416"/></g><g id="n353"><use href="#N" x="487" y="435"/></g><g id="n354"><use href="#N" x="513" y="435"/></g><g id="n355"><use href="#N" x="487" y="454"/></g><g id="n356"><use href="#N" x="548" y="413"/></g><g id="n357"><use href="#N" x="588" y="421"/></g><g id="n358"><use href="#N" x="548" y="433"/></g><g id="n359"><use href="#N" x="588" y="438"/></g><g id="n360"><use href="#N" x="548" y="454"/></g><g id="n361"><use href="#N" x="588" y="454"/></g><g id="n362"><use href="#N" x="627" y="413"/></g><g id="n363"><use href="#N" x="627" y="433"/></g><g id="n364"><use href="#N" x="660" y="433"/></g><g id="n365"><use href="#N" x="627" y="453"/></g><g id="n366"><use href="#N" x="660" y="453"/></g>
<g id="n367"><use href="#N" x="747" y="392"/></g><g id="n368"><use href="#N" x="698" y="413"/></g><g id="n369"><use href="#N" x="738" y="413"/></g><g id="n370"><use href="#N" x="698" y="433"/></g><g id="n371"><use href="#N" x="738" y="436"/></g><g id="n372"><use href="#N" x="698" y="449"/></g><g id="n373"><use href="#N" x="738" y="452"/></g>
<g id="n374"><use href="#N" x="807" y="398"/></g><g id="n375"><use href="#N" x="864" y="389"/></g><g id="n376"><use href="#N" x="893" y="392"/></g><g id="n377"><use href="#N" x="918" y="397"/></g><g id="n378"><use href="#N" x="855" y="405"/></g><g id="n379"><use href="#N" x="807" y="418"/></g><g id="n380"><use href="#N" x="834" y="419"/></g><g id="n381"><use href="#N" x="893" y="413"/></g><g id="n382"><use href="#N" x="807" y="438"/></g><g id="n383"><use href="#N" x="878" y="433"/></g><g id="n384"><use href="#N" x="915" y="433"/></g><g id="n385"><use href="#N" x="834" y="450"/></g><g id="n386"><use href="#N" x="894" y="447"/></g>
</g>
<g id="label-topic"><rect class="lb" x="96" y="3.5" width="92" height="57"/><text class="lt2" x="142" y="26">数据主题</text><text class="lt2" x="142" y="55">（二级）</text></g>
<g id="label-entity"><rect class="lb" x="84.5" y="434" width="92" height="28"/><text class="lt" x="130" y="456">数据实体</text></g>
</svg>
